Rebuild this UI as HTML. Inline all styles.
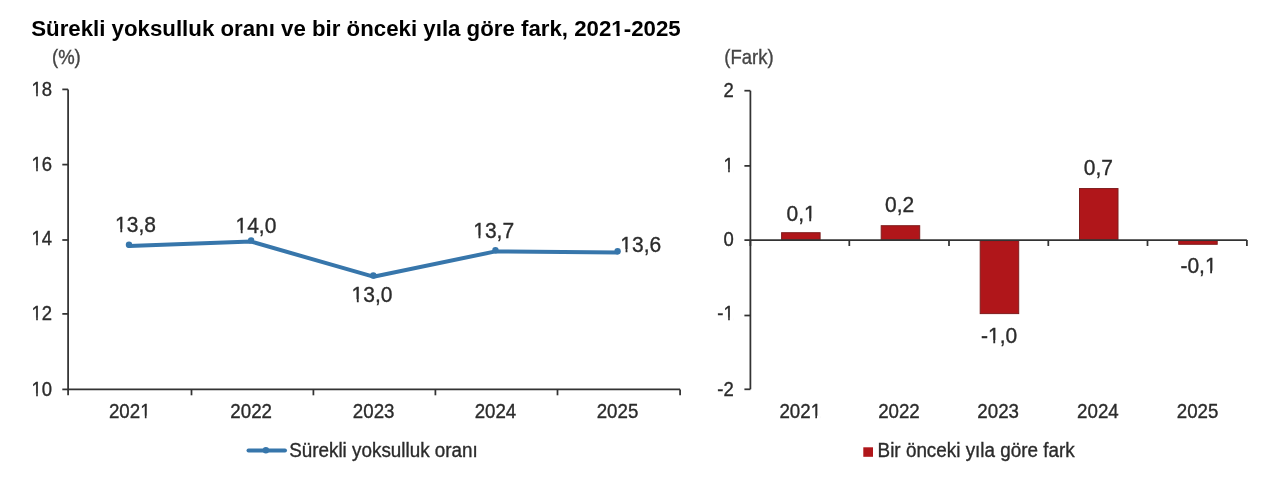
<!DOCTYPE html>
<html><head><meta charset="utf-8"><title>Sürekli yoksulluk oranı</title>
<style>
html,body{margin:0;padding:0;background:#fff;}
svg{display:block;font-family:"Liberation Sans",sans-serif;}
</style></head><body>
<svg width="1280" height="489" viewBox="0 0 1280 489">
<rect width="1280" height="489" fill="#fff"/>
<path d="M68.1 89.4V389.4H680.1" fill="none" stroke="#333333" stroke-width="1.75"/>
<path d="M62.3 89.40H68.1" stroke="#333333" stroke-width="1.75"/>
<path d="M62.3 164.60H68.1" stroke="#333333" stroke-width="1.75"/>
<path d="M62.3 240.00H68.1" stroke="#333333" stroke-width="1.75"/>
<path d="M62.3 313.90H68.1" stroke="#333333" stroke-width="1.75"/>
<path d="M62.3 389.40H68.1" stroke="#333333" stroke-width="1.75"/>
<path d="M68.10 389.5V395.3" stroke="#333333" stroke-width="1.75"/>
<path d="M191.50 389.5V395.3" stroke="#333333" stroke-width="1.75"/>
<path d="M313.40 389.5V395.3" stroke="#333333" stroke-width="1.75"/>
<path d="M435.40 389.5V395.3" stroke="#333333" stroke-width="1.75"/>
<path d="M557.50 389.5V395.3" stroke="#333333" stroke-width="1.75"/>
<path d="M680.10 389.5V395.3" stroke="#333333" stroke-width="1.75"/>
<polyline points="129.00,246.0 251.15,241.6 373.30,276.7 495.45,251.4 617.60,252.4" fill="none" stroke="#3776AB" stroke-width="4" stroke-linejoin="round" stroke-linecap="round"/>
<circle cx="129.00" cy="244.80" r="3.2" fill="#3776AB"/>
<circle cx="251.15" cy="240.40" r="3.2" fill="#3776AB"/>
<circle cx="373.30" cy="275.50" r="3.2" fill="#3776AB"/>
<circle cx="495.45" cy="250.20" r="3.2" fill="#3776AB"/>
<circle cx="617.60" cy="251.20" r="3.2" fill="#3776AB"/>
<path d="M248.5 450.45H285" stroke="#3776AB" stroke-width="4" stroke-linecap="round"/>
<circle cx="265.9" cy="450.2" r="3.2" fill="#3776AB"/>
<path d="M750.4 90.7V389.3" fill="none" stroke="#333333" stroke-width="1.75"/>
<path d="M744.4 90.70H750.4" stroke="#333333" stroke-width="1.75"/>
<path d="M744.4 165.90H750.4" stroke="#333333" stroke-width="1.75"/>
<path d="M744.4 240.10H750.4" stroke="#333333" stroke-width="1.75"/>
<path d="M744.4 315.50H750.4" stroke="#333333" stroke-width="1.75"/>
<path d="M744.4 389.30H750.4" stroke="#333333" stroke-width="1.75"/>
<rect x="781.60" y="232.70" width="38.5" height="6.90" fill="#B0161A" stroke="#7F1D1D" stroke-width="1"/>
<rect x="881.20" y="225.70" width="38.5" height="13.90" fill="#B0161A" stroke="#7F1D1D" stroke-width="1"/>
<rect x="980.20" y="240.60" width="38.5" height="73.00" fill="#B0161A" stroke="#7F1D1D" stroke-width="1"/>
<rect x="1079.50" y="188.55" width="38.5" height="51.05" fill="#B0161A" stroke="#7F1D1D" stroke-width="1"/>
<rect x="1178.70" y="240.60" width="38.5" height="3.70" fill="#B0161A" stroke="#7F1D1D" stroke-width="1"/>
<path d="M750.4 240.1H1246.9" fill="none" stroke="#333333" stroke-width="1.75"/>
<path d="M750.40 240.1V246.0" stroke="#333333" stroke-width="1.75"/>
<path d="M849.30 240.1V246.0" stroke="#333333" stroke-width="1.75"/>
<path d="M949.00 240.1V246.0" stroke="#333333" stroke-width="1.75"/>
<path d="M1048.30 240.1V246.0" stroke="#333333" stroke-width="1.75"/>
<path d="M1147.50 240.1V246.0" stroke="#333333" stroke-width="1.75"/>
<path d="M1246.90 240.1V246.0" stroke="#333333" stroke-width="1.75"/>
<rect x="863.3" y="447.3" width="9.7" height="9.5" fill="#B0161A"/>
<mask id="m1" maskUnits="userSpaceOnUse" x="0" y="0" width="1280" height="489"><rect width="1280" height="489" fill="#fff"/><rect x="611.89" y="32.45" width="4.70" height="5.05" fill="#000"/><rect x="619.64" y="32.45" width="4.31" height="5.05" fill="#000"/><rect x="32.04" y="93.34" width="4.14" height="4.26" fill="#000"/><rect x="37.82" y="93.34" width="3.90" height="4.26" fill="#000"/><rect x="32.04" y="168.34" width="4.14" height="4.26" fill="#000"/><rect x="37.82" y="168.34" width="3.90" height="4.26" fill="#000"/><rect x="32.04" y="242.44" width="4.14" height="4.26" fill="#000"/><rect x="37.82" y="242.44" width="3.90" height="4.26" fill="#000"/><rect x="32.04" y="317.64" width="4.14" height="4.26" fill="#000"/><rect x="37.82" y="317.64" width="3.90" height="4.26" fill="#000"/><rect x="32.04" y="393.44" width="4.14" height="4.26" fill="#000"/><rect x="37.82" y="393.44" width="3.90" height="4.26" fill="#000"/><rect x="140.66" y="415.74" width="4.18" height="4.26" fill="#000"/><rect x="146.50" y="415.74" width="3.94" height="4.26" fill="#000"/><rect x="115.77" y="228.86" width="4.58" height="4.44" fill="#000"/><rect x="122.21" y="228.86" width="4.32" height="4.44" fill="#000"/><rect x="236.17" y="230.26" width="4.58" height="4.44" fill="#000"/><rect x="242.61" y="230.26" width="4.32" height="4.44" fill="#000"/><rect x="352.27" y="299.16" width="4.58" height="4.44" fill="#000"/><rect x="358.71" y="299.16" width="4.32" height="4.44" fill="#000"/><rect x="473.97" y="235.56" width="4.58" height="4.44" fill="#000"/><rect x="480.41" y="235.56" width="4.32" height="4.44" fill="#000"/><rect x="621.00" y="249.16" width="4.58" height="4.44" fill="#000"/><rect x="627.44" y="249.16" width="4.32" height="4.44" fill="#000"/><rect x="724.02" y="169.04" width="4.14" height="4.26" fill="#000"/><rect x="729.80" y="169.04" width="3.90" height="4.26" fill="#000"/><rect x="724.01" y="317.54" width="4.15" height="4.26" fill="#000"/><rect x="729.79" y="317.54" width="3.90" height="4.26" fill="#000"/><rect x="811.16" y="415.74" width="4.18" height="4.26" fill="#000"/><rect x="817.00" y="415.74" width="3.94" height="4.26" fill="#000"/><rect x="804.71" y="218.46" width="4.58" height="4.44" fill="#000"/><rect x="811.15" y="218.46" width="4.32" height="4.44" fill="#000"/><rect x="988.74" y="340.16" width="4.58" height="4.44" fill="#000"/><rect x="995.18" y="340.16" width="4.32" height="4.44" fill="#000"/><rect x="1205.60" y="270.66" width="4.58" height="4.44" fill="#000"/><rect x="1212.04" y="270.66" width="4.32" height="4.44" fill="#000"/></mask>
<g mask="url(#m1)">
<text x="31.2" y="35.7" font-size="22" fill="#000" text-anchor="start" font-weight="bold" textLength="649.5" lengthAdjust="spacingAndGlyphs">Sürekli yoksulluk oranı ve bir önceki yıla göre fark, 2021-2025</text>
<text x="52.1" y="95.8" font-size="19.5" fill="#2b2b2b" text-anchor="end" textLength="20.57" lengthAdjust="spacingAndGlyphs" stroke="#2b2b2b" stroke-width="0.35">18</text>
<text x="52.1" y="170.8" font-size="19.5" fill="#2b2b2b" text-anchor="end" textLength="20.57" lengthAdjust="spacingAndGlyphs" stroke="#2b2b2b" stroke-width="0.35">16</text>
<text x="52.1" y="244.9" font-size="19.5" fill="#2b2b2b" text-anchor="end" textLength="20.57" lengthAdjust="spacingAndGlyphs" stroke="#2b2b2b" stroke-width="0.35">14</text>
<text x="52.1" y="320.1" font-size="19.5" fill="#2b2b2b" text-anchor="end" textLength="20.57" lengthAdjust="spacingAndGlyphs" stroke="#2b2b2b" stroke-width="0.35">12</text>
<text x="52.1" y="395.9" font-size="19.5" fill="#2b2b2b" text-anchor="end" textLength="20.57" lengthAdjust="spacingAndGlyphs" stroke="#2b2b2b" stroke-width="0.35">10</text>
<text x="129.75" y="418.2" font-size="19.5" fill="#2b2b2b" text-anchor="middle" textLength="41.6" lengthAdjust="spacingAndGlyphs" stroke="#2b2b2b" stroke-width="0.35">2021</text>
<text x="251.15" y="418.2" font-size="19.5" fill="#2b2b2b" text-anchor="middle" textLength="41.6" lengthAdjust="spacingAndGlyphs" stroke="#2b2b2b" stroke-width="0.35">2022</text>
<text x="373.65" y="418.2" font-size="19.5" fill="#2b2b2b" text-anchor="middle" textLength="41.6" lengthAdjust="spacingAndGlyphs" stroke="#2b2b2b" stroke-width="0.35">2023</text>
<text x="495.45" y="418.2" font-size="19.5" fill="#2b2b2b" text-anchor="middle" textLength="41.6" lengthAdjust="spacingAndGlyphs" stroke="#2b2b2b" stroke-width="0.35">2024</text>
<text x="617.5" y="418.2" font-size="19.5" fill="#2b2b2b" text-anchor="middle" textLength="41.6" lengthAdjust="spacingAndGlyphs" stroke="#2b2b2b" stroke-width="0.35">2025</text>
<text x="52" y="64.4" font-size="19.8" fill="#454545" text-anchor="start" textLength="28.77" lengthAdjust="spacingAndGlyphs" stroke="#454545" stroke-width="0.35">(%)</text>
<text x="135.5" y="231.5" font-size="22" fill="#2b2b2b" text-anchor="middle" textLength="40.87" lengthAdjust="spacingAndGlyphs" stroke="#2b2b2b" stroke-width="0.35">13,8</text>
<text x="255.9" y="232.9" font-size="22" fill="#2b2b2b" text-anchor="middle" textLength="40.87" lengthAdjust="spacingAndGlyphs" stroke="#2b2b2b" stroke-width="0.35">14,0</text>
<text x="372.0" y="301.8" font-size="22" fill="#2b2b2b" text-anchor="middle" textLength="40.87" lengthAdjust="spacingAndGlyphs" stroke="#2b2b2b" stroke-width="0.35">13,0</text>
<text x="493.7" y="238.2" font-size="22" fill="#2b2b2b" text-anchor="middle" textLength="40.87" lengthAdjust="spacingAndGlyphs" stroke="#2b2b2b" stroke-width="0.35">13,7</text>
<text x="620.3" y="251.8" font-size="22" fill="#2b2b2b" text-anchor="start" textLength="40.87" lengthAdjust="spacingAndGlyphs" stroke="#2b2b2b" stroke-width="0.35">13,6</text>
<text x="289.2" y="457.1" font-size="19.6" fill="#2b2b2b" text-anchor="start" textLength="188.6" lengthAdjust="spacingAndGlyphs" stroke="#2b2b2b" stroke-width="0.35">Sürekli yoksulluk oranı</text>
<text x="733.8" y="97.4" font-size="19.5" fill="#2b2b2b" text-anchor="end" textLength="10.29" lengthAdjust="spacingAndGlyphs" stroke="#2b2b2b" stroke-width="0.35">2</text>
<text x="733.8" y="171.5" font-size="19.5" fill="#2b2b2b" text-anchor="end" textLength="10.29" lengthAdjust="spacingAndGlyphs" stroke="#2b2b2b" stroke-width="0.35">1</text>
<text x="733.8" y="246.45" font-size="19.5" fill="#2b2b2b" text-anchor="end" textLength="10.29" lengthAdjust="spacingAndGlyphs" stroke="#2b2b2b" stroke-width="0.35">0</text>
<text x="733.8" y="320.0" font-size="19.5" fill="#2b2b2b" text-anchor="end" textLength="16.45" lengthAdjust="spacingAndGlyphs" stroke="#2b2b2b" stroke-width="0.35">-1</text>
<text x="733.8" y="396.3" font-size="19.5" fill="#2b2b2b" text-anchor="end" textLength="16.45" lengthAdjust="spacingAndGlyphs" stroke="#2b2b2b" stroke-width="0.35">-2</text>
<text x="800.25" y="418.2" font-size="19.5" fill="#2b2b2b" text-anchor="middle" textLength="41.6" lengthAdjust="spacingAndGlyphs" stroke="#2b2b2b" stroke-width="0.35">2021</text>
<text x="898.95" y="418.2" font-size="19.5" fill="#2b2b2b" text-anchor="middle" textLength="41.6" lengthAdjust="spacingAndGlyphs" stroke="#2b2b2b" stroke-width="0.35">2022</text>
<text x="998.15" y="418.2" font-size="19.5" fill="#2b2b2b" text-anchor="middle" textLength="41.6" lengthAdjust="spacingAndGlyphs" stroke="#2b2b2b" stroke-width="0.35">2023</text>
<text x="1097.9" y="418.2" font-size="19.5" fill="#2b2b2b" text-anchor="middle" textLength="41.6" lengthAdjust="spacingAndGlyphs" stroke="#2b2b2b" stroke-width="0.35">2024</text>
<text x="1197.55" y="418.2" font-size="19.5" fill="#2b2b2b" text-anchor="middle" textLength="41.6" lengthAdjust="spacingAndGlyphs" stroke="#2b2b2b" stroke-width="0.35">2025</text>
<text x="724.3" y="64.0" font-size="19.8" fill="#454545" text-anchor="start" textLength="49.32" lengthAdjust="spacingAndGlyphs" stroke="#454545" stroke-width="0.35">(Fark)</text>
<text x="801.1" y="221.1" font-size="22" fill="#2b2b2b" text-anchor="middle" textLength="29.19" lengthAdjust="spacingAndGlyphs" stroke="#2b2b2b" stroke-width="0.35">0,1</text>
<text x="899.6" y="212.0" font-size="22" fill="#2b2b2b" text-anchor="middle" textLength="29.19" lengthAdjust="spacingAndGlyphs" stroke="#2b2b2b" stroke-width="0.35">0,2</text>
<text x="999.15" y="342.8" font-size="22" fill="#2b2b2b" text-anchor="middle" textLength="36.18" lengthAdjust="spacingAndGlyphs" stroke="#2b2b2b" stroke-width="0.35">-1,0</text>
<text x="1098.4" y="174.9" font-size="22" fill="#2b2b2b" text-anchor="middle" textLength="29.19" lengthAdjust="spacingAndGlyphs" stroke="#2b2b2b" stroke-width="0.35">0,7</text>
<text x="1198.5" y="273.3" font-size="22" fill="#2b2b2b" text-anchor="middle" textLength="36.18" lengthAdjust="spacingAndGlyphs" stroke="#2b2b2b" stroke-width="0.35">-0,1</text>
<text x="877.6" y="457.1" font-size="19.6" fill="#2b2b2b" text-anchor="start" textLength="197.1" lengthAdjust="spacingAndGlyphs" stroke="#2b2b2b" stroke-width="0.35">Bir önceki yıla göre fark</text>
</g>
</svg>
</body></html>
